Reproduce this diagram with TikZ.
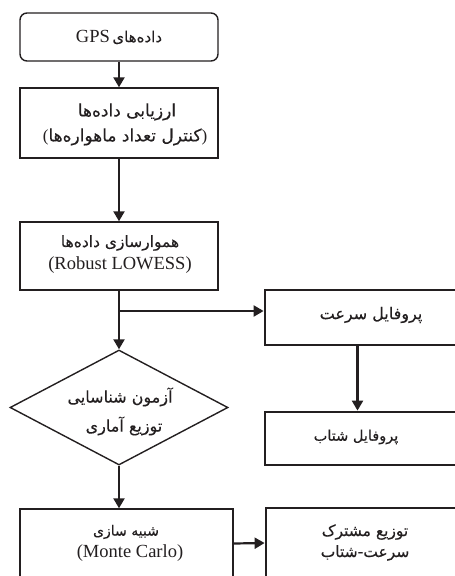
\documentclass[tikz,border=0pt]{standalone}
\usepackage{fontspec}
\setmainfont{Liberation Serif}
\newfontfamily\fa[Script=Arabic,FakeBold=0.25]{DejaVu Sans}
\TeXXeTstate=1
\usetikzlibrary{arrows.meta,shapes.geometric}
\definecolor{ink}{HTML}{231F20}
\newcommand{\fsz}[1]{\fa\fontsize{#1}{#1}\selectfont}
\newcommand{\lat}[1]{{\fontsize{18.5}{22}\selectfont #1}}
\begin{document}
\begin{tikzpicture}[x=1pt,y=-1pt,
  thinbox/.style={draw=ink,line width=1.4pt,rectangle,inner sep=0pt},
  thickbox/.style={draw=ink,line width=2.8pt,rectangle,inner sep=0pt},
  txt/.style={align=center,inner sep=0pt,text=ink},
  arr/.style={draw=ink,line width=2.2pt,-{Triangle[length=10pt,width=11pt]}}]
\useasboundingbox (0,0) rectangle (455,576);
\clip (0,0) rectangle (455,576);
% left column
\node[thinbox,rounded corners=7pt,minimum width=198pt,minimum height=48pt] (b1) at (119,37) {};
\node[txt] (t1) at (119,37) {\beginR{\fsz{15}داده‌های} \beginL\lat{GPS}\endL\endR};
\node[thinbox,minimum width=198pt,minimum height=70pt] (b2) at (119,123) {};
\node[txt] (t2a) at (127,112) {\fsz{17}\beginR ارزیابی داده‌ها\endR};
\node[txt] (t2b) at (125,137) {{\fontsize{17}{17}\selectfont(}{\fsz{17}\beginR کنترل تعداد ماهواره‌ها\endR}{\fontsize{17}{17}\selectfont)}};
\node[thinbox,minimum width=198pt,minimum height=68pt] (b3) at (119,256) {};
\node[txt] (t3a) at (120,243) {\fsz{15.5}\beginR هموارسازی داده‌ها\endR};
\node[txt] (t3b) at (120,265) {\lat{(Robust LOWESS)}};
\node[diamond,draw=ink,line width=1.4pt,minimum width=218pt,minimum height=115pt,inner sep=0pt] (d) at (119,407.5) {};
\node[txt] (tda) at (120,397) {\fsz{16}\beginR آزمون شناسایی\endR};
\node[txt] (tdb) at (124,426) {\fsz{16}\beginR توزیع آماری\endR};
\node[thinbox,minimum width=213pt,minimum height=69pt] (b7) at (126.5,543.5) {};
\node[txt] (t7a) at (126,532) {\fsz{14}\beginR شبیه سازی\endR};
\node[txt] (t7b) at (130,553) {\lat{(Monte Carlo)}};
% right column
\node[thickbox,minimum width=197pt,minimum height=55pt] (b4) at (363.5,317.5) {};
\node[txt] (t4) at (371,315) {\fsz{16}\beginR پروفایل سرعت\endR};
\node[thickbox,minimum width=197pt,minimum height=53pt] (b5) at (363.5,438.5) {};
\node[txt] (t5) at (356,437) {\fsz{14.5}\beginR پروفایل شتاب\endR};
\node[thickbox,minimum width=196pt,minimum height=70pt] (b6) at (364,543) {};
\node[txt] (t6a) at (365,532) {\fsz{15.5}\beginR توزیع مشترک\endR};
\node[txt] (t6b) at (365,553) {\fsz{15.5}\beginR سرعت-شتاب\endR};
% connectors
\draw[arr] (b1) -- (b2);
\draw[arr] (b2) -- (b3);
\draw[arr] (b3) -- (d);
\coordinate (br) at (119,311);
\draw[arr] (br) -- (br -| b4.west);
\draw[arr] ([xshift=-6pt]b4.south) -- ([xshift=-6pt]b5.north);
\draw[arr] (d.south) -- (d.south |- b7.north);
\draw[arr] (b7.east) -- (b6.west);
\end{tikzpicture}
\end{document}
